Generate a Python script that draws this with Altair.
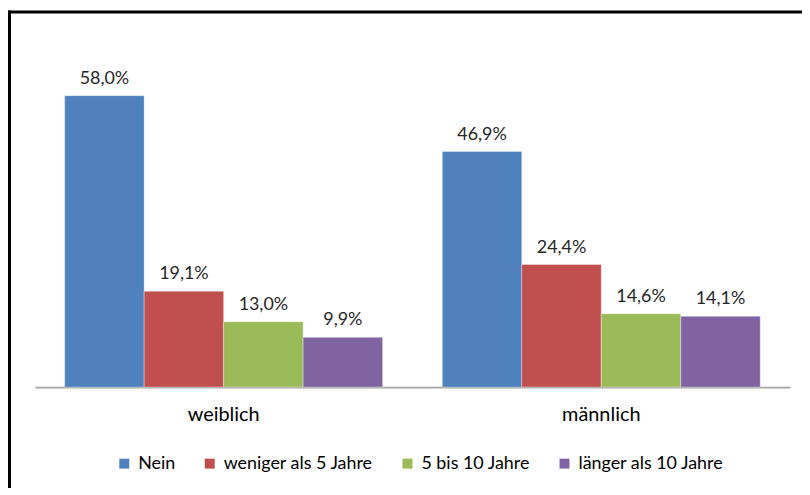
import altair as alt
import pandas as pd

groups = ["weiblich", "männlich"]
series = ["Nein", "weniger als 5 Jahre", "5 bis 10 Jahre", "länger als 10 Jahre"]
weiblich = [58.0, 19.1, 13.0, 9.9]
maennlich = [46.9, 24.4, 14.6, 14.1]
colors = ["#4F81BD", "#C0504D", "#9BBB59", "#8064A2"]

rows = []
for g, vals in zip(groups, [weiblich, maennlich]):
    for s, v in zip(series, vals):
        rows.append({"Geschlecht": g, "Antwort": s, "Wert": v})
df = pd.DataFrame(rows)

FONT = "Lato"
W, H = 760, 354

base = alt.Chart(df).encode(
    x=alt.X("Geschlecht:N", sort=groups,
            scale=alt.Scale(paddingInner=0.158, paddingOuter=0.079),
            axis=alt.Axis(title=None, labelAngle=0, labelFontSize=20, labelPadding=18,
                          ticks=False, domainColor="#A6A6A6", domainWidth=2,
                          labelColor="#000000", labelFont=FONT)),
    xOffset=alt.XOffset("Antwort:N", sort=series,
                        scale=alt.Scale(paddingInner=0, paddingOuter=0)),
    y=alt.Y("Wert:Q", scale=alt.Scale(domain=[0, 70]), axis=None),
)

bars = base.mark_bar(strokeWidth=0.7, strokeOpacity=0.5, stroke="#ffffff").encode(
    color=alt.Color("Antwort:N", sort=series,
                    scale=alt.Scale(domain=series, range=colors),
                    legend=alt.Legend(orient="none", legendX=81, legendY=422,
                                      direction="horizontal", title=None,
                                      symbolType="square", symbolSize=100,
                                      symbolStrokeWidth=0, labelFontSize=18,
                                      labelFont=FONT, labelColor="#000000",
                                      columnPadding=25, labelOffset=5))
)

labels = base.transform_calculate(
    lab="replace(format(datum.Wert, '.1f'), '.', ',') + '%'"
).mark_text(baseline="alphabetic", dy=-12, fontSize=18, font=FONT, color="#262626").encode(
    text="lab:N"
)

frame_df = pd.DataFrame({"a": [0]})
left_border = alt.Chart(frame_df).mark_rule(color="#000000", strokeWidth=3).encode(
    x=alt.value(-25.5), y=alt.value(-25), y2=alt.value(470)
)
top_border = alt.Chart(frame_df).mark_rule(color="#000000", strokeWidth=3).encode(
    x=alt.value(-27), x2=alt.value(800), y=alt.value(-23.5)
)

chart = alt.layer(bars, labels, left_border, top_border).properties(
    width=W, height=H,
    padding={"left": 27, "top": 26, "right": 12, "bottom": 100},
    autosize=alt.AutoSizeParams(type="none"),
).configure(font=FONT).configure_view(strokeWidth=0, stroke="transparent")

chart.save("out.html", embed_options={"renderer": "svg", "actions": False})
